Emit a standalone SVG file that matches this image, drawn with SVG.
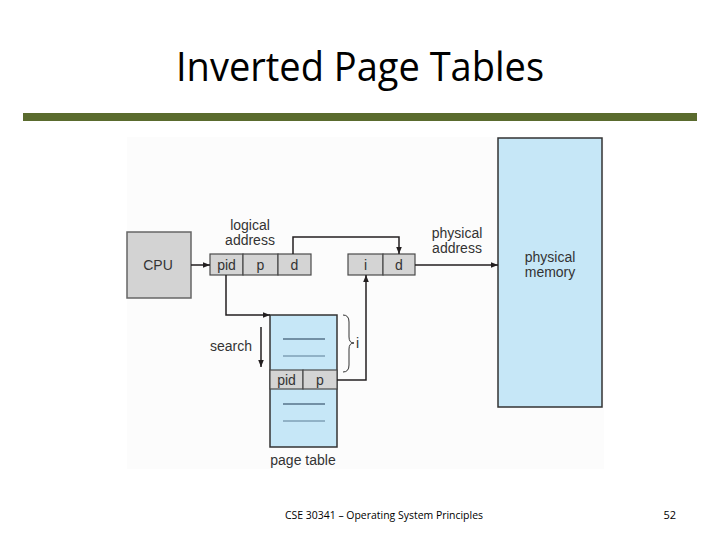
<svg xmlns="http://www.w3.org/2000/svg" width="720" height="540" viewBox="0 0 720 540">
<defs>
<marker id="ah" viewBox="0 0 10 10" refX="10" refY="5" markerWidth="7" markerHeight="7" markerUnits="userSpaceOnUse" orient="auto">
<path d="M0,1 L10,5 L0,9 z" fill="#231f20"/>
</marker>
<style>
.lbl{font-family:"Liberation Sans",Arial,sans-serif;font-size:14px;fill:#333333}
.cell{fill:#d4d4d4;stroke:#4a4a4a;stroke-width:1.2}
.blue{fill:#c6e7f7;stroke:#333333;stroke-width:1.5}
.conn{fill:none;stroke:#231f20;stroke-width:1.5}
.hl{stroke:#1f3b55;stroke-width:1.2}
.hl2{stroke:#5b7d95;stroke-width:1}
</style>
</defs>
<rect width="720" height="540" fill="#ffffff"/>
<rect x="127" y="137" width="477" height="332" fill="#fcfcfc"/>
<text x="360" y="81" text-anchor="middle" font-family="'Open Sans','Liberation Sans',sans-serif" font-size="40" textLength="368" lengthAdjust="spacingAndGlyphs" fill="#000000">Inverted Page Tables</text>
<rect x="23" y="113" width="674" height="8" fill="#5a6b2e"/>

<g id="cpu">
<rect x="127" y="232" width="64" height="66" fill="#d3d3d3" stroke="#666666" stroke-width="1.5"/>
<text class="lbl" x="158" y="270" text-anchor="middle">CPU</text>
</g>

<g id="logical-address">
<rect class="cell" x="210" y="254" width="33" height="21"/>
<rect class="cell" x="243" y="254" width="35" height="21"/>
<rect class="cell" x="278" y="254" width="33" height="21"/>
<text class="lbl" x="226.5" y="270" text-anchor="middle">pid</text>
<text class="lbl" x="260.5" y="270" text-anchor="middle">p</text>
<text class="lbl" x="294.5" y="270" text-anchor="middle">d</text>
<text class="lbl" x="250" y="230" text-anchor="middle">logical</text>
<text class="lbl" x="250" y="245" text-anchor="middle">address</text>
</g>

<g id="physical-address">
<rect class="cell" x="348" y="254" width="35" height="21"/>
<rect class="cell" x="383" y="254" width="32" height="21"/>
<text class="lbl" x="365.5" y="270" text-anchor="middle">i</text>
<text class="lbl" x="399" y="270" text-anchor="middle">d</text>
<text class="lbl" x="457" y="238" text-anchor="middle">physical</text>
<text class="lbl" x="457" y="253" text-anchor="middle">address</text>
</g>

<g id="physical-memory">
<rect class="blue" x="498" y="138" width="104" height="269"/>
<text class="lbl" x="550" y="262" text-anchor="middle">physical</text>
<text class="lbl" x="550" y="277" text-anchor="middle">memory</text>
</g>

<g id="page-table">
<rect class="blue" x="270" y="315" width="67" height="132"/>
<rect class="cell" x="270" y="370" width="33" height="19"/>
<rect class="cell" x="303" y="370" width="34" height="19"/>
<text class="lbl" x="286.5" y="385" text-anchor="middle">pid</text>
<text class="lbl" x="320" y="385" text-anchor="middle">p</text>
<line class="hl" x1="283" y1="339" x2="325" y2="339"/>
<line class="hl2" x1="283" y1="356" x2="325" y2="356"/>
<line class="hl" x1="283" y1="404" x2="325" y2="404"/>
<line class="hl2" x1="283" y1="421" x2="325" y2="421"/>
<text class="lbl" x="303" y="465" text-anchor="middle">page table</text>
<path d="M343,315 Q349,315 349,322 L349,337 Q349,343 354,343 Q349,343 349,349 L349,365 Q349,372 343,372" fill="none" stroke="#333333" stroke-width="1"/>
<text class="lbl" x="356" y="348">i</text>
<text class="lbl" x="252" y="351" text-anchor="end">search</text>
</g>

<g id="connectors">
<line class="conn" x1="191" y1="265" x2="210" y2="265" marker-end="url(#ah)"/>
<polyline class="conn" points="293,254 293,237 399,237 399,254" marker-end="url(#ah)"/>
<line class="conn" x1="415" y1="265" x2="498" y2="265" marker-end="url(#ah)"/>
<polyline class="conn" points="226,275 226,315 270,315" marker-end="url(#ah)"/>
<polyline class="conn" points="337,380 366,380 366,275" marker-end="url(#ah)"/>
<line class="conn" x1="261" y1="327" x2="261" y2="367" marker-end="url(#ah)"/>
</g>

<text x="384" y="519" text-anchor="middle" font-family="'Open Sans','Liberation Sans',sans-serif" font-size="11" textLength="198" lengthAdjust="spacingAndGlyphs" fill="#000000">CSE 30341 – Operating System Principles</text>
<text x="676" y="519" text-anchor="end" font-family="'Open Sans','Liberation Sans',sans-serif" font-size="11" fill="#000000">52</text>
</svg>
